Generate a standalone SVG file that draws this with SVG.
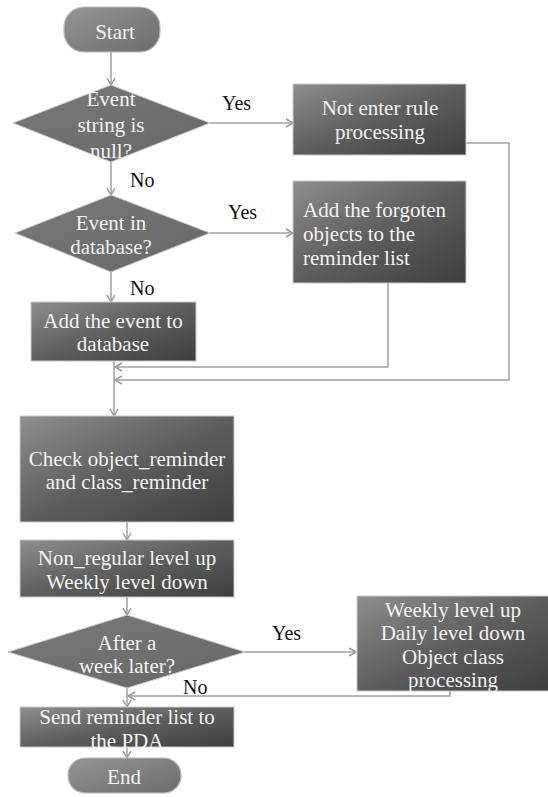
<svg xmlns="http://www.w3.org/2000/svg" width="548" height="797" viewBox="0 0 548 797">
<defs>
<linearGradient id="gBox" x1="0" y1="0" x2="1" y2="1">
<stop offset="0" stop-color="#8e8e8e"/>
<stop offset="0.5" stop-color="#5e5e5e"/>
<stop offset="1" stop-color="#3e3e3e"/>
</linearGradient>
<linearGradient id="gDia" x1="0" y1="0" x2="1" y2="1">
<stop offset="0" stop-color="#7a7a7a"/>
<stop offset="1" stop-color="#666666"/>
</linearGradient>
<linearGradient id="gTerm" x1="0" y1="0" x2="1" y2="1">
<stop offset="0" stop-color="#959595"/>
<stop offset="1" stop-color="#6c6c6c"/>
</linearGradient>
<marker id="arr" markerWidth="10" markerHeight="10" refX="8" refY="5" orient="auto" markerUnits="userSpaceOnUse">
<path d="M1,1 L8,5 L1,9" fill="none" stroke="#9a9a9a" stroke-width="1.5"/>
</marker>
</defs>
<style>
.box{fill:url(#gBox);stroke:#c9c9c9;stroke-width:1}
.dia{fill:url(#gDia);stroke:#c9c9c9;stroke-width:1}
.term{fill:url(#gTerm);stroke:#bdbdbd;stroke-width:1.2}
.t{font-family:"Liberation Serif","Times New Roman",serif;font-size:21px;fill:#f2f2f2;text-anchor:middle}
.tl{font-family:"Liberation Serif","Times New Roman",serif;font-size:21px;fill:#f2f2f2}
.lbl{font-family:"Liberation Serif","Times New Roman",serif;font-size:20px;fill:#111}
.c{fill:none;stroke:#a0a0a0;stroke-width:1.5}
</style>
<rect width="548" height="797" fill="#ffffff"/>
<g id="connectors">
<path class="c" d="M111,52 V85" marker-end="url(#arr)"/>
<path class="c" d="M210,123 H293" marker-end="url(#arr)"/>
<path class="c" d="M111,162 V195" marker-end="url(#arr)"/>
<path class="c" d="M210,233 H293" marker-end="url(#arr)"/>
<path class="c" d="M111,272 V302" marker-end="url(#arr)"/>
<path class="c" d="M466,143 H509 V380 H115" marker-end="url(#arr)"/>
<path class="c" d="M388,283 V367 H115" marker-end="url(#arr)"/>
<path class="c" d="M114,361 V416" marker-end="url(#arr)"/>
<path class="c" d="M127,522 V540" marker-end="url(#arr)"/>
<path class="c" d="M127,597 V615" marker-end="url(#arr)"/>
<path class="c" d="M245,652 H356" marker-end="url(#arr)"/>
<path class="c" d="M450,691 V696 H128" marker-end="url(#arr)"/>
<path class="c" d="M127,688 V707" marker-end="url(#arr)"/>
<path class="c" d="M127,747 V758" marker-end="url(#arr)"/>
<text class="lbl" x="222" y="110">Yes</text>
<text class="lbl" x="130" y="187">No</text>
<text class="lbl" x="228" y="219">Yes</text>
<text class="lbl" x="130" y="295">No</text>
<text class="lbl" x="272" y="640">Yes</text>
<text class="lbl" x="183" y="694">No</text>
</g>
<g id="start">
<rect class="term" x="64" y="7" width="96" height="45" rx="20" ry="20"/>
<text class="t" x="115" y="39">Start</text>
</g>
<g id="decision-null">
<polygon class="dia" points="111,85 210,123 111,162 13,123"/>
<text class="t" x="111" y="106">Event</text>
<text class="t" x="111" y="132">string is</text>
<text class="t" x="111" y="158">null?</text>
</g>
<g id="not-enter">
<rect class="box" x="293" y="84" width="173" height="71"/>
<text class="t" x="380" y="115">Not enter rule</text>
<text class="t" x="380" y="139">processing</text>
</g>
<g id="decision-db">
<polygon class="dia" points="111,195 210,233 111,272 15,233"/>
<text class="t" x="111" y="230">Event in</text>
<text class="t" x="111" y="254">database?</text>
</g>
<g id="add-forgotten">
<rect class="box" x="293" y="181" width="173" height="102"/>
<text class="tl" x="303" y="217">Add the forgoten</text>
<text class="tl" x="303" y="241">objects to the</text>
<text class="tl" x="303" y="265">reminder list</text>
</g>
<g id="add-event">
<rect class="box" x="31" y="302" width="165" height="59"/>
<text class="t" x="113" y="328">Add the event to</text>
<text class="t" x="113" y="351">database</text>
</g>
<g id="check">
<rect class="box" x="20" y="416" width="214" height="106"/>
<text class="t" x="127" y="466">Check object_reminder</text>
<text class="t" x="127" y="489">and class_reminder</text>
</g>
<g id="levels">
<rect class="box" x="20" y="540" width="214" height="57"/>
<text class="t" x="127" y="565">Non_regular level up</text>
<text class="t" x="127" y="589">Weekly level down</text>
</g>
<g id="decision-week">
<polygon class="dia" points="127,615 245,652 127,688 8,652"/>
<text class="t" x="127" y="650">After a</text>
<text class="t" x="127" y="673">week later?</text>
</g>
<g id="weekly">
<rect class="box" x="357" y="596" width="192" height="95"/>
<text class="t" x="453" y="617">Weekly level up</text>
<text class="t" x="453" y="640">Daily level down</text>
<text class="t" x="453" y="664">Object class</text>
<text class="t" x="453" y="687">processing</text>
</g>
<g id="send">
<rect class="box" x="20" y="707" width="214" height="40"/>
<text class="t" x="127" y="724">Send reminder list to</text>
<text class="t" x="127" y="748">the PDA</text>
</g>
<g id="end">
<rect class="term" x="68" y="758" width="113" height="35" rx="17" ry="17"/>
<text class="t" x="124" y="784">End</text>
</g>
</svg>
